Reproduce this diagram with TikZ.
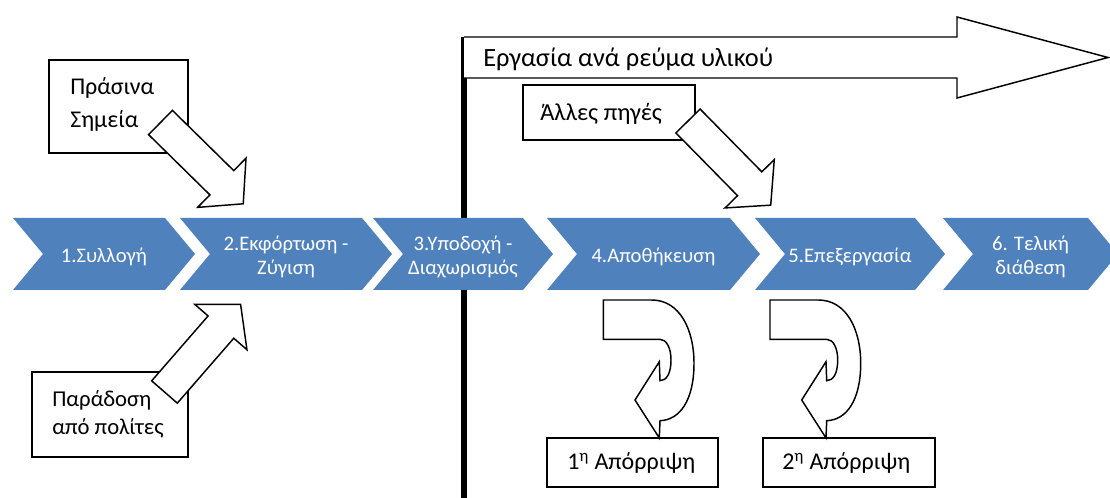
\documentclass[tikz,border=0pt]{standalone}
\usepackage{fontspec}
\setmainfont{Carlito}
\definecolor{chevblue}{RGB}{79,129,189}
\begin{document}
\begin{tikzpicture}[x=0.75pt,y=-0.75pt,
  ctext/.style={text=white,font=\fontsize{15.5}{17.5}\selectfont,align=center,inner sep=0pt},
  boxline/.style={draw=black,line width=1.1pt,fill=white},
  btext/.style={anchor=base west,inner sep=0pt},
  blk/.style={draw=black,line width=1.1pt,fill=white,line join=miter}]
\useasboundingbox (0,0) rectangle (1110,498);
\clip (0,0) rectangle (1110,498);
\fill[white] (0,0) rectangle (1110,498);

% thick vertical divider
\draw[line width=4.5pt] (464,37) -- (464,498);

% chevrons
\foreach \L/\R/\t [count=\i] in {13/165/{1.Συλλογή},
    180/362/{2.Εκφόρτωση -\\Ζύγιση},
    373/523/{3.Υποδοχή -\\Διαχωρισμός},
    547/730/{4.Αποθήκευση},
    755/915/{5.Επεξεργασία},
    943/1088/{6. Τελική\\διάθεση}} {
  \fill[chevblue] (\L,218) -- (\R,218) -- ({\R+30},254) -- (\R,290) -- (\L,290) -- ({\L+30},254) -- cycle;
  \node[ctext] (c\i) at ({(\L+30+\R)/2},257) {\t};
}

% top block arrow
\draw[blk] (464,37) -- (957,37) -- (957,17) -- (1108,57.5) -- (957,98) -- (957,78) -- (464,78);
\node[btext,font=\fontsize{19.8}{23}\selectfont] (work) at (483,66.7) {Εργασία ανά ρεύμα υλικού};

% boxes
\draw[boxline] (49,60) rectangle (188,153);
\node[btext,font=\fontsize{18}{22}\selectfont] (green1) at (70,95) {Πράσινα};
\node[btext,font=\fontsize{18}{22}\selectfont] (green2) at (70,128) {Σημεία};

\draw[boxline] (32,372) rectangle (188,457);
\node[btext,font=\fontsize{17}{21}\selectfont] (cit1) at (52,406.7) {Παράδοση};
\node[btext,font=\fontsize{17}{21}\selectfont] (cit2) at (52,435) {από πολίτες};

\draw[boxline] (523,85) rectangle (695,140);
\node[btext,font=\fontsize{18.3}{21}\selectfont] (other) at (540,121) {Άλλες πηγές};

\draw[boxline] (547,438) rectangle (718,487);
\node[btext,font=\fontsize{18}{22}\selectfont] (rej1) at (567,470) {1\textsuperscript{η} Απόρριψη};
\draw[boxline] (763,438) rectangle (935,487);
\node[btext,font=\fontsize{18}{22}\selectfont] (rej2) at (782,470) {2\textsuperscript{η} Απόρριψη};

% straight block arrows
\foreach \sx/\sy/\ang/\len in {160.5/122.5/-44.5/86, 164.5/392/49/86, 688/121/-45.5/88} {
  \begin{scope}[shift={(\sx,\sy)},rotate=\ang]
    \draw[blk] (0,-17) -- (\len,-17) -- (\len,-34.5) -- ({\len+30},0) -- (\len,34.5) -- (\len,17) -- (0,17) -- cycle;
  \end{scope}
}

% curved arrows
\foreach \ox in {603.3,770} {
  \begin{scope}[shift={(\ox,300)}]
    \draw[blk] (0,0) -- (48.3,0) .. controls (76.7,0) and (90.7,30) .. (90.7,63.3)
      .. controls (90.7,100) and (76.7,120) .. (56.7,120.7) -- (56,138) -- (31.7,100) -- (56,61.7) -- (56.7,80.7)
      .. controls (63.3,80.7) and (67.7,73.3) .. (67.7,60)
      .. controls (67.7,48.3) and (63.3,39.3) .. (56.7,39.3) -- (0,39.3) -- cycle;
  \end{scope}
}
\end{tikzpicture}
\end{document}
